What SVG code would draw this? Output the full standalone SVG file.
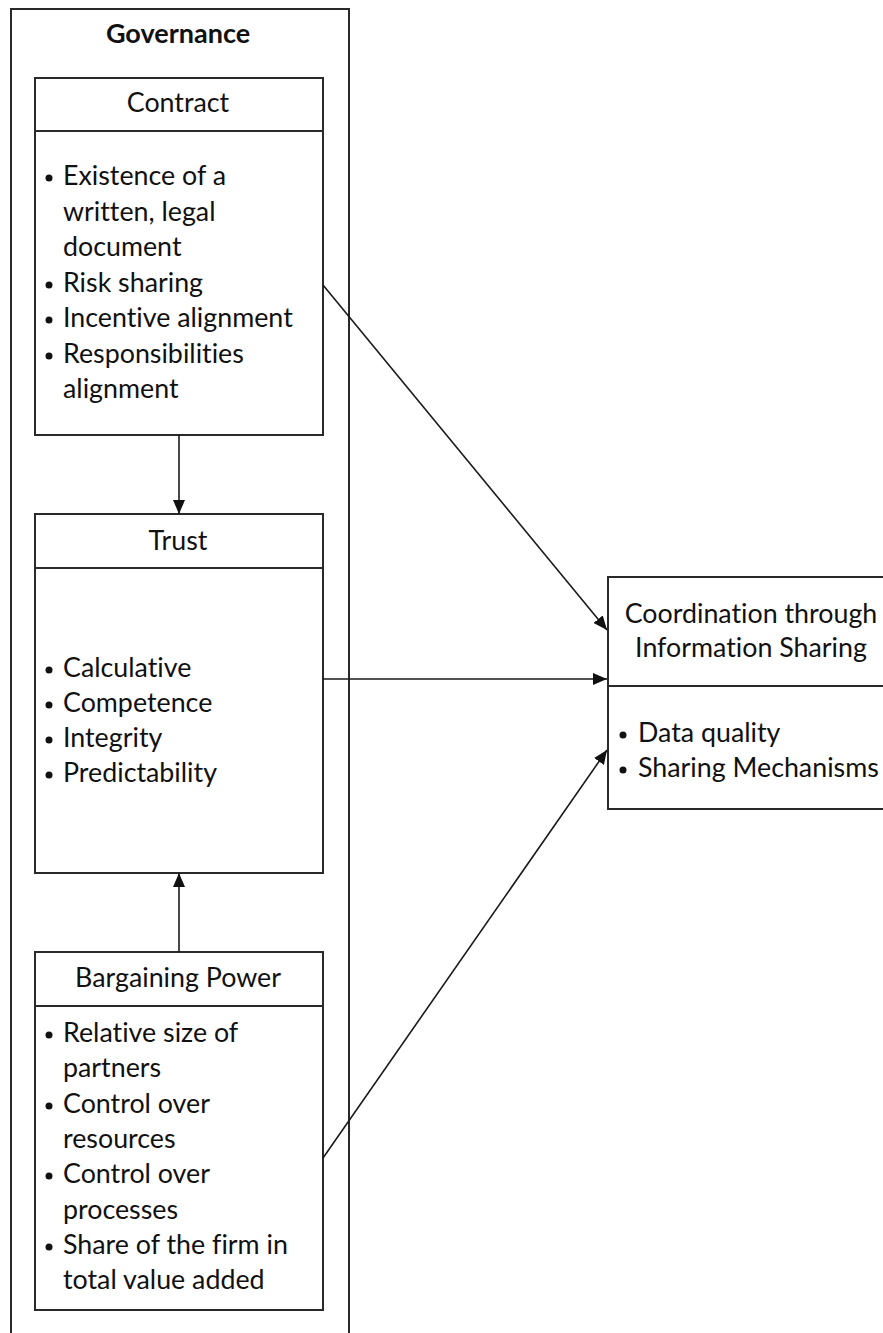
<svg xmlns="http://www.w3.org/2000/svg" width="883" height="1333" viewBox="0 0 883 1333">
  <style>
    .box { fill: #fff; stroke: #2a2a2a; stroke-width: 2; }
    .rule { stroke: #2a2a2a; stroke-width: 2; }
    .edge { stroke: #1a1a1a; stroke-width: 1.6; fill: none; marker-end: url(#arrow); }
    text { font-family: Lato, "Noto Sans", sans-serif; fill: #111; font-size: 26.8px; font-variant-ligatures: none; }
    .title { font-weight: bold; font-size: 27px; text-anchor: middle; }
    .head { text-anchor: middle; }
    .dot { fill: #111; }
  </style>
  <defs>
    <marker id="arrow" viewBox="0 0 14 12" refX="14" refY="6" markerWidth="14" markerHeight="12" markerUnits="userSpaceOnUse" orient="auto">
      <path d="M0,0 L14,6 L0,12 Z" fill="#111"/>
    </marker>
  </defs>

  <rect width="883" height="1333" fill="#fff"/>

  <!-- Governance container (runs past the bottom edge) -->
  <g id="governance">
    <rect class="box" x="11" y="9" width="338" height="1340"/>
    <text class="title" x="178" y="43">Governance</text>
  </g>

  <!-- Contract -->
  <g id="contract">
    <rect class="box" x="35" y="78" width="288" height="357"/>
    <line class="rule" x1="35" y1="131" x2="323" y2="131"/>
    <text class="head" x="178" y="112">Contract</text>
    <circle class="dot" cx="49" cy="178" r="3.5"/>
    <circle class="dot" cx="49" cy="285" r="3.5"/>
    <circle class="dot" cx="49" cy="320" r="3.5"/>
    <circle class="dot" cx="49" cy="356" r="3.5"/>
    <text x="63" y="185">Existence of a</text>
    <text x="63" y="221">written, legal</text>
    <text x="63" y="256">document</text>
    <text x="63" y="292">Risk sharing</text>
    <text x="63" y="327">Incentive alignment</text>
    <text x="63" y="363">Responsibilities</text>
    <text x="63" y="398">alignment</text>
  </g>

  <!-- Trust -->
  <g id="trust">
    <rect class="box" x="35" y="514" width="288" height="359"/>
    <line class="rule" x1="35" y1="568" x2="323" y2="568"/>
    <text class="head" x="178" y="550">Trust</text>
    <circle class="dot" cx="49" cy="670" r="3.5"/>
    <circle class="dot" cx="49" cy="705" r="3.5"/>
    <circle class="dot" cx="49" cy="740" r="3.5"/>
    <circle class="dot" cx="49" cy="775" r="3.5"/>
    <text x="63" y="677">Calculative</text>
    <text x="63" y="712">Competence</text>
    <text x="63" y="747">Integrity</text>
    <text x="63" y="782">Predictability</text>
  </g>

  <!-- Bargaining Power -->
  <g id="bargaining">
    <rect class="box" x="35" y="952" width="288" height="358"/>
    <line class="rule" x1="35" y1="1006" x2="323" y2="1006"/>
    <text class="head" x="178" y="987">Bargaining Power</text>
    <circle class="dot" cx="49" cy="1035" r="3.5"/>
    <circle class="dot" cx="49" cy="1106" r="3.5"/>
    <circle class="dot" cx="49" cy="1176" r="3.5"/>
    <circle class="dot" cx="49" cy="1247" r="3.5"/>
    <text x="63" y="1042">Relative size of</text>
    <text x="63" y="1077">partners</text>
    <text x="63" y="1113">Control over</text>
    <text x="63" y="1148">resources</text>
    <text x="63" y="1183">Control over</text>
    <text x="63" y="1219">processes</text>
    <text x="63" y="1254">Share of the firm in</text>
    <text x="63" y="1289">total value added</text>
  </g>

  <!-- Coordination through Information Sharing (runs past the right edge) -->
  <g id="coordination">
    <rect class="box" x="608" y="577" width="300" height="232"/>
    <line class="rule" x1="608" y1="686" x2="908" y2="686"/>
    <text class="head" x="751" y="623">Coordination through</text>
    <text class="head" x="751" y="657">Information Sharing</text>
    <circle class="dot" cx="623" cy="735" r="3.5"/>
    <circle class="dot" cx="623" cy="770" r="3.5"/>
    <text x="638" y="742">Data quality</text>
    <text x="638" y="777">Sharing Mechanisms</text>
  </g>

  <!-- Connectors -->
  <g id="connectors">
    <line class="edge" x1="179" y1="435" x2="179" y2="514"/>
    <line class="edge" x1="179" y1="952" x2="179" y2="873"/>
    <line class="edge" x1="323" y1="285" x2="607" y2="630"/>
    <line class="edge" x1="323" y1="679" x2="607" y2="679"/>
    <line class="edge" x1="323" y1="1158" x2="607" y2="750"/>
  </g>
</svg>
